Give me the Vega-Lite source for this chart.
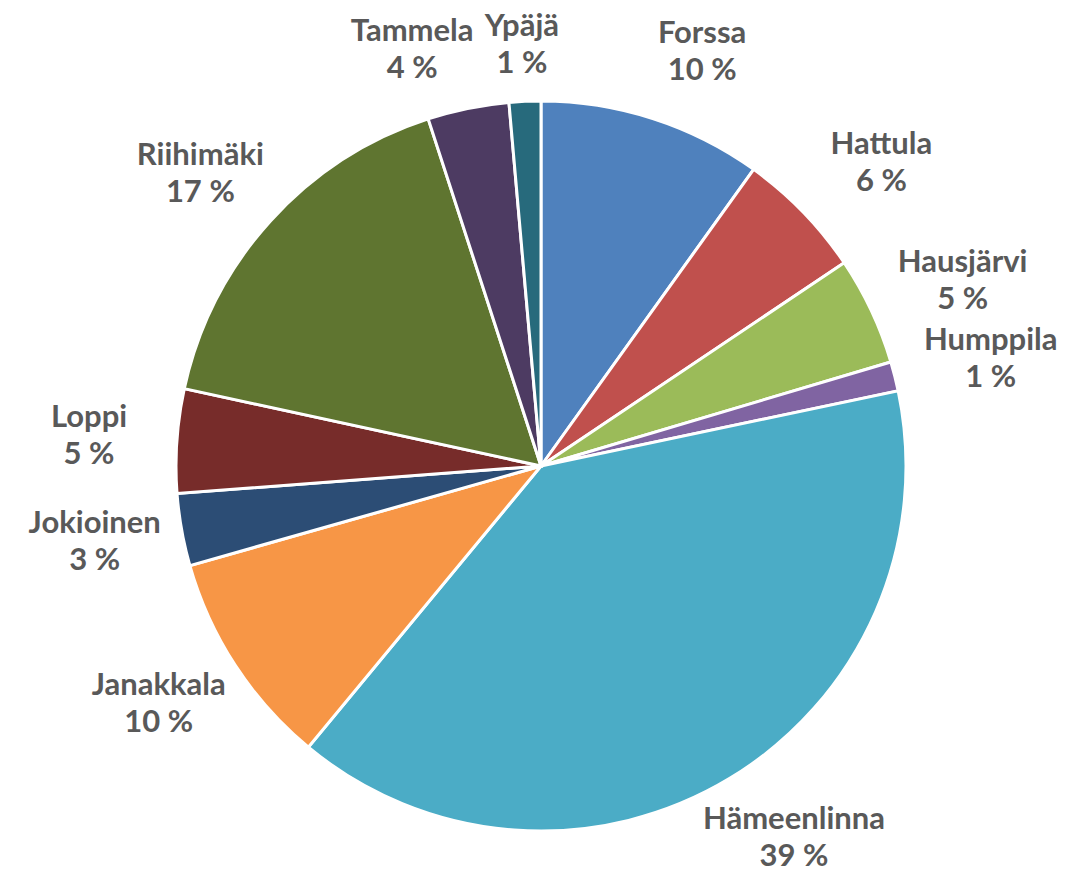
{
  "$schema": "https://vega.github.io/schema/vega-lite/v6.json",
  "autosize": {"type": "none"},
  "width": 1068,
  "height": 812,
  "padding": {"left": 7, "top": 60, "right": 0, "bottom": 0},
  "background": "white",
  "data": {
    "values": [
      {"idx": 1, "name": "Forssa", "value": 9.9},
      {"idx": 2, "name": "Hattula", "value": 5.7},
      {"idx": 3, "name": "Hausjärvi", "value": 4.8},
      {"idx": 4, "name": "Humppila", "value": 1.3},
      {"idx": 5, "name": "Hämeenlinna", "value": 39.3},
      {"idx": 6, "name": "Janakkala", "value": 9.6},
      {"idx": 7, "name": "Jokioinen", "value": 3.2},
      {"idx": 8, "name": "Loppi", "value": 4.6},
      {"idx": 9, "name": "Riihimäki", "value": 16.6},
      {"idx": 10, "name": "Tammela", "value": 3.6},
      {"idx": 11, "name": "Ypäjä", "value": 1.4}
    ]
  },
  "transform": [
    {"stack": "value", "groupby": [], "sort": [{"field": "idx", "order": "ascending"}], "as": ["v0", "v1"]},
    {"calculate": "(datum.v0 + datum.v1) / 2", "as": "mid"},
    {"calculate": "datum.name + '\\n' + format(datum.value, '.0f') + ' %'", "as": "label"}
  ],
  "layer": [
    {
      "mark": {"type": "arc", "radius": 365, "stroke": "white", "strokeWidth": 3},
      "encoding": {
        "theta": {"field": "v0", "type": "quantitative", "stack": null, "scale": {"domain": [0, 100]}},
        "theta2": {"field": "v1"},
        "color": {
          "field": "name",
          "type": "nominal",
          "scale": {
            "domain": ["Forssa", "Hattula", "Hausjärvi", "Humppila", "Hämeenlinna", "Janakkala", "Jokioinen", "Loppi", "Riihimäki", "Tammela", "Ypäjä"],
            "range": ["#4F81BD", "#C0504D", "#9BBB59", "#8064A2", "#4BACC6", "#F79646", "#2C4D75", "#772C2A", "#5F7530", "#4D3B62", "#276A7C"]
          },
          "legend": null
        }
      }
    },
    {
      "transform": [{"filter": "datum.idx <= 5"}],
      "mark": {"type": "text", "radius": 435, "dx": 28, "dy": -18, "font": "Lato", "fontWeight": "bold", "fontSize": 31, "fill": "#595959", "lineBreak": "\n", "lineHeight": 37, "align": "center", "baseline": "middle"},
      "encoding": {
        "theta": {"field": "mid", "type": "quantitative", "stack": null},
        "text": {"field": "label"}
      }
    },
    {
      "transform": [{"filter": "datum.idx >= 6 && datum.idx <= 9"}],
      "mark": {"type": "text", "radius": 435, "dx": -18, "dy": -18, "font": "Lato", "fontWeight": "bold", "fontSize": 31, "fill": "#595959", "lineBreak": "\n", "lineHeight": 37, "align": "center", "baseline": "middle"},
      "encoding": {
        "theta": {"field": "mid", "type": "quantitative", "stack": null},
        "text": {"field": "label"}
      }
    },
    {
      "transform": [{"filter": "datum.name == 'Ypäjä'"}],
      "mark": {"type": "text", "radius": 435, "dy": -4, "font": "Lato", "fontWeight": "bold", "fontSize": 31, "fill": "#595959", "lineBreak": "\n", "lineHeight": 37, "align": "center", "baseline": "middle"},
      "encoding": {
        "theta": {"field": "mid", "type": "quantitative", "stack": null},
        "text": {"field": "label"}
      }
    },
    {
      "transform": [{"filter": "datum.name == 'Tammela'"}],
      "mark": {"type": "text", "radius": 435, "dx": -42, "dy": -8, "font": "Lato", "fontWeight": "bold", "fontSize": 31, "fill": "#595959", "lineBreak": "\n", "lineHeight": 37, "align": "center", "baseline": "middle"},
      "encoding": {
        "theta": {"field": "mid", "type": "quantitative", "stack": null},
        "text": {"field": "label"}
      }
    }
  ]
}
